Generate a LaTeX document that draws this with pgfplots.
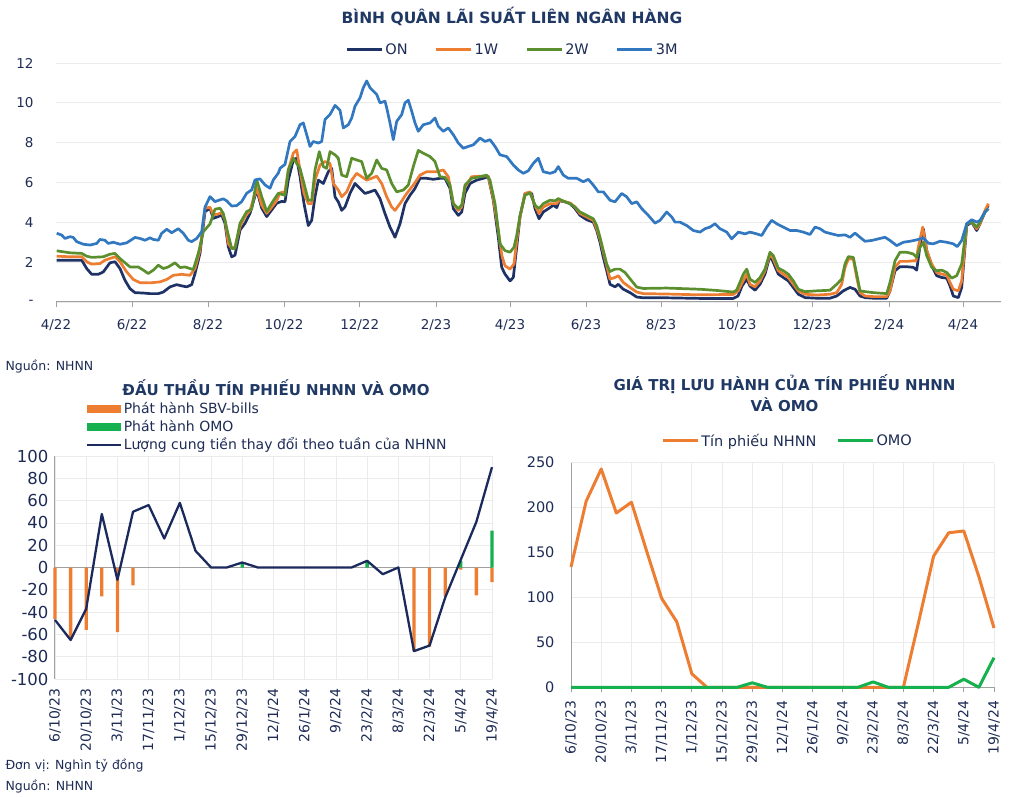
\documentclass[border=0pt]{standalone}
\usepackage{fontspec}
\setmainfont{DejaVu Sans}
\usepackage{pgfplots}
\pgfplotsset{compat=1.18}
\definecolor{ttl}{HTML}{1F3864}
\definecolor{txt}{HTML}{1E2C55}
\definecolor{cON}{HTML}{1F3266}
\definecolor{cOrange}{HTML}{ED7D31}
\definecolor{c2W}{HTML}{5B8F2E}
\definecolor{c3M}{HTML}{3178C0}
\definecolor{cGreen}{HTML}{16B04F}
\definecolor{cLine}{HTML}{1B2A5C}
\definecolor{gridc}{HTML}{EBEBEB}
\definecolor{axisc}{HTML}{A0A0A0}
\pgfplotsset{
  base/.style={
    scale only axis, anchor=south west, clip=false,
    /pgf/number format/assume math mode=true,
    grid style={gridc, line width=0.8pt},
    tick label style={text=txt},
    legend cell align=left,
  }
}
\begin{document}
\begin{tikzpicture}[x=1pt,y=1pt]
\useasboundingbox (0pt,0pt) rectangle (1024pt,796pt);
% ---------------- top chart ----------------
\node[font=\fontsize{15.5}{18}\selectfont\bfseries, text=ttl] at (512pt,780pt) {BÌNH QUÂN LÃI SUẤT LIÊN NGÂN HÀNG};
\begin{axis}[base, at={(56pt,494pt)}, width=945pt, height=239pt,
  xmin=56, xmax=1001, ymin=0, ymax=12,
  axis x line*=bottom, axis y line*=left,
  x axis line style={draw=axisc, line width=1pt, -},
  y axis line style={draw=none, -},
  xtick={56,132,208,284,359.7,436,510,586,661,737,812,889,963},
  xticklabels={4/22,6/22,8/22,10/22,12/22,2/23,4/23,6/23,8/23,10/23,12/23,2/24,4/24},
  ytick={0,2,...,12}, yticklabels={-,2,4,6,8,10,12},
  ymajorgrids,
  tick align=outside, major tick length=5pt,
  xtick style={draw=axisc, line width=1pt},
  ytick style={draw=none},
  tick label style={font=\fontsize{13.5}{16}\selectfont},
  xticklabel shift=9pt, yticklabel shift=14pt,
  legend columns=4,
  legend style={draw=none, fill=none, at={(0.5,1)}, anchor=center, xshift=-16pt, yshift=13pt,
     font=\fontsize{14.5}{17}\selectfont, text=txt,
     /tikz/every even column/.append style={column sep=25pt}},
  legend image code/.code={\draw[#1, line width=3pt] (0pt,0pt) -- (35pt,0pt);},
]
\addplot[cON, line width=2.7pt, line join=round] table[x=x,y=y] {
x y
56.7 2.10
70 2.10
81.7 2.10
86.7 1.68
91.7 1.39
98.3 1.39
103.3 1.51
110 1.97
115 2.02
120 1.68
125 1.09
130 0.67
135 0.47
143.3 0.45
150 0.42
158.3 0.42
163.3 0.50
170 0.76
176.7 0.87
181.7 0.81
186.7 0.76
191.7 0.87
195 1.43
200 2.44
205 4.54
210 4.71
213.3 4.20
218.3 4.29
221.7 4.37
225 3.95
228.3 2.77
231.7 2.27
235 2.35
240 3.61
245 3.95
250 4.45
256.7 5.63
261.7 4.71
266.7 4.29
271.7 4.62
276.7 4.96
281.7 5.05
285 5.03
288.3 6.12
293.3 7.13
296.7 7.22
300 6.29
304 4.94
308.3 3.84
311.7 4.10
315 5.28
318.3 6.12
323.3 5.95
328.3 6.54
331.7 6.71
335 5.28
338.3 5.03
341.7 4.60
345 4.77
350 5.45
355 5.95
360 5.70
365 5.45
370 5.53
375 5.62
380 5.19
385 4.44
390 3.76
395 3.25
400 3.93
405 4.94
410 5.36
415 5.70
420 6.21
426.7 6.21
433.3 6.16
440 6.21
445 6.21
450 5.70
453.3 4.69
458.3 4.35
461.7 4.52
465 5.45
470 5.95
476.7 6.12
483.3 6.21
488.3 6.29
493.3 5.11
498.3 3.25
501.7 1.74
505 1.40
510 1.06
513.3 1.23
516.7 2.75
520 4.27
525 5.45
531.7 5.45
535 4.69
539 4.18
543.3 4.52
550 4.74
553.3 4.86
556.7 4.74
559.3 5.08
565 5.03
570 4.94
575 4.69
580 4.35
586.7 4.13
593.3 4.01
596.7 3.59
600 3.00
603.3 2.24
606.7 1.57
610 0.89
615 0.76
618.3 0.89
623.3 0.64
630 0.47
636.7 0.25
643.3 0.21
666.7 0.21
700 0.18
733.3 0.18
738 0.30
742 0.80
746.7 1.15
750 0.80
755 0.59
760 0.89
765 1.40
770 2.33
773.3 1.99
778.3 1.40
783.3 1.23
788.3 1.06
793.3 0.73
798.3 0.39
805 0.22
816.7 0.19
830 0.19
836.7 0.30
843.3 0.56
850 0.73
855 0.64
860 0.30
865 0.22
873.3 0.19
886.7 0.19
890 0.56
895 1.57
900 1.77
906.7 1.77
913.3 1.74
916.7 1.60
920 2.83
923.3 3.68
926.7 2.58
931.7 1.82
936.7 1.32
941.7 1.23
946.7 1.20
950 0.81
953.3 0.30
958.3 0.22
961.7 0.73
966.7 3.84
971.7 4.01
976.7 3.59
980 3.93
985 4.52
988.3 4.86
};
\addlegendentry{ON}
\addplot[cOrange, line width=2.7pt, line join=round] table[x=x,y=y] {
x y
56.7 2.30
70 2.27
81.7 2.27
86.7 2.02
91.7 1.90
100 1.93
105 2.10
115 2.27
120 2.02
126.7 1.51
133.3 1.13
140 0.97
150 0.96
160 1.01
166.7 1.13
173.3 1.34
181.7 1.39
190 1.34
195 1.68
200 2.61
205 4.71
210 4.76
213.3 4.37
218.3 4.42
221.7 4.49
225 4.12
228.3 2.94
231.7 2.69
235 2.77
240 3.78
245 4.29
250 4.59
256.7 5.71
261.7 4.87
266.7 4.45
271.7 4.76
276.7 5.09
280 5.48
285 5.53
288.3 6.63
293.3 7.47
296.7 7.64
300 6.63
304 5.45
308.3 4.94
311.7 4.94
315 6.12
320 6.88
325 7.05
330 6.96
333.3 5.95
338.3 5.62
341.7 5.28
346.7 5.53
351.7 6.12
356.7 6.46
361.7 6.29
366.7 6.12
371.7 6.21
376.7 6.32
381.7 5.95
386.7 5.28
391.7 4.77
395 4.60
400 4.94
406.7 5.45
413.3 5.87
420 6.37
426.7 6.54
436.7 6.54
443.3 6.63
448.3 6.29
453.3 4.94
458.3 4.60
461.7 4.77
465 5.78
471.7 6.29
480 6.32
488.3 6.32
493.3 5.19
498.3 3.59
502 2.30
505 1.82
510 1.65
514 1.91
516.7 3.09
520 4.27
525 5.45
530 5.53
535 4.86
539 4.44
543.3 4.77
550 4.94
556.7 4.94
559.3 5.11
565 5.03
570 4.97
575 4.77
580 4.44
586.7 4.27
593.3 4.10
596.7 3.68
600 3.17
603.3 2.50
606.7 1.82
610 1.15
615 1.23
618.3 1.32
623.3 0.98
630 0.73
636.7 0.50
643.3 0.42
666.7 0.40
700 0.36
733.3 0.38
738 0.55
742 0.95
746.7 1.40
750 0.89
755 0.76
760 1.06
765 1.57
770 2.41
773.3 2.16
778.3 1.57
783.3 1.40
788.3 1.23
793.3 0.89
798.3 0.56
805 0.39
816.7 0.35
830 0.39
836.7 0.47
841.7 0.89
845 1.74
848.3 2.16
853.3 2.16
856.7 1.23
860 0.47
865 0.30
873.3 0.27
886.7 0.27
890 0.56
895 1.74
900 2.04
906.7 2.04
913.3 2.07
916 2.07
918.3 2.75
922.7 3.76
926.7 2.58
931.7 1.91
936.7 1.48
941.7 1.40
946.7 1.35
950 0.98
953.3 0.64
958.3 0.56
961.7 1.06
966.7 3.93
971.7 4.01
976.7 3.68
980 3.93
985 4.60
988.3 4.94
};
\addlegendentry{1W}
\addplot[c2W, line width=2.7pt, line join=round] table[x=x,y=y] {
x y
56.7 2.57
70 2.47
81.7 2.44
86.7 2.30
91.7 2.24
103.3 2.27
110 2.40
115 2.44
120 2.18
130 1.76
138.3 1.76
143.3 1.60
148.3 1.43
153.3 1.60
158.3 1.85
163.3 1.68
168.3 1.76
175 1.97
180 1.73
185 1.76
190 1.68
193.3 1.63
198.3 2.44
203.3 3.53
210 3.92
215 4.66
220 4.71
223.3 4.45
228.3 3.36
231.7 2.69
235 2.69
240 3.95
246.7 4.54
251.7 4.66
256.7 6.13
261.7 5.29
266.7 4.54
271.7 4.96
278.3 5.46
285 5.36
288.3 6.63
293.3 7.22
296.7 6.96
300 6.71
304 5.95
308.3 5.11
311.7 5.11
315 6.63
319.3 7.55
323.3 6.80
326.7 6.71
330 7.55
335 7.39
338.3 7.22
341.7 6.37
346.7 6.29
351.7 7.22
356.7 7.13
361.7 7.05
366.7 6.21
371.7 6.46
376.7 7.13
381.7 6.71
386.7 6.63
391.7 5.95
396.7 5.53
403.3 5.62
408.3 5.87
413.3 6.80
418.3 7.61
423.3 7.47
430 7.30
435 7.05
440 6.29
445 6.26
450 5.87
453.3 4.94
458.3 4.69
461.7 4.86
465 5.87
471.7 6.21
480 6.29
486.7 6.37
490 6.12
495 4.94
500 2.92
505 2.58
510 2.50
514 2.75
516.7 3.34
520 4.35
525 5.36
530 5.48
535 4.86
539 4.69
543.3 4.94
550 5.11
555 5.08
558.3 5.19
565 5.03
570 4.94
575 4.77
580 4.52
586.7 4.35
593.3 4.18
596.7 3.84
600 3.25
603.3 2.58
606.7 1.91
610 1.53
615 1.65
620 1.65
625 1.48
631.7 1.06
636.7 0.75
643.3 0.68
666.7 0.70
700 0.64
716.7 0.58
733.3 0.50
736.7 0.60
740 1.00
743.3 1.40
746.7 1.65
750 1.15
755 0.98
760 1.23
765 1.65
770 2.50
773.3 2.33
778.3 1.70
783.3 1.57
788.3 1.40
793.3 1.06
798.3 0.64
805 0.52
816.7 0.56
830 0.59
836.7 0.89
841.7 1.15
845 1.91
848.3 2.28
853.3 2.24
856.7 1.40
860 0.56
865 0.52
873.3 0.47
886.7 0.42
890 0.98
895 2.07
900 2.50
906.7 2.50
913.3 2.41
916.7 2.24
920 2.75
923.3 3.00
926.7 2.33
931.7 1.74
936.7 1.57
941.7 1.60
946.7 1.48
951.7 1.20
956.7 1.32
961.7 1.91
966.7 3.93
971.7 4.01
976.7 3.76
980 4.01
985 4.52
988.3 4.69
};
\addlegendentry{2W}
\addplot[c3M, line width=2.7pt, line join=round] table[x=x,y=y] {
x y
56.7 3.45
61.7 3.36
65 3.19
70 3.28
73.3 3.24
76.7 3.03
83.3 2.90
90 2.86
96.7 2.94
100 3.14
105 3.10
108.3 2.94
113.3 3.00
120 2.90
126.7 2.97
135 3.24
140 3.19
145 3.10
150 3.22
153.3 3.14
158.3 3.10
161.7 3.45
166.7 3.65
171.7 3.48
178.3 3.68
183.3 3.45
188.3 3.10
191.7 3.03
196.7 3.19
201.7 3.53
205 4.76
210 5.29
215 5.04
220 5.13
223.3 5.18
226.7 5.08
231.7 4.82
236.7 4.84
241.7 5.04
246.7 5.46
251.7 5.63
255 6.13
260 6.18
265 5.88
270 5.71
273.3 6.13
278.3 6.47
280 6.71
285 6.91
290 8.06
295 8.31
300 8.90
303.3 8.99
306.7 8.40
310 7.81
313.3 8.06
318.3 7.98
321.7 8.06
325 9.16
330 9.41
335 9.87
340 9.63
343.3 8.74
348.3 8.90
351.7 9.24
355 9.83
360 10.25
363.3 10.76
366.7 11.10
370 10.76
373.3 10.59
376.7 10.42
380 10.00
385 10.08
386.7 9.75
390 8.99
393.3 8.15
396.7 9.07
401.7 9.41
405 10.00
408.3 10.13
411.7 9.58
415 8.99
418.3 8.57
423.3 8.90
430 8.99
435 9.24
438.3 8.82
443.3 8.57
448.3 8.74
453.3 8.40
458.3 7.98
463.3 7.72
468.3 7.81
473.3 7.89
480 8.23
485 8.06
490 8.15
495 7.81
500 7.39
506.7 7.30
513.3 6.88
518.3 6.63
523.3 6.46
528.3 6.59
533.3 6.96
538.3 7.22
543.3 6.54
550 6.46
555 6.54
558.3 6.80
563.3 6.37
568.3 6.21
576.7 6.21
583.3 6.04
588.3 6.16
593.3 5.87
598.3 5.53
603.3 5.53
610 5.11
615 5.03
621.7 5.45
626.7 5.28
631.7 4.94
636.7 5.03
641.7 4.69
648.3 4.35
655 3.96
660 4.10
666.7 4.52
671.7 4.27
675 4.01
680 4.01
686.7 3.84
693.3 3.59
700 3.51
705 3.68
710 3.76
715 3.93
720 3.68
726.7 3.51
731.7 3.17
738.3 3.51
745 3.42
750 3.51
756.7 3.42
761.7 3.34
766.7 3.76
771.7 4.10
776.7 3.93
783.3 3.76
790 3.59
796.7 3.59
803.3 3.51
810 3.39
815 3.76
820 3.68
825 3.51
831.7 3.42
838.3 3.34
845 3.37
850 3.25
855 3.46
860 3.25
865 3.05
871.7 3.09
878.3 3.17
885 3.25
890 3.09
896.7 2.83
903.3 3.00
910 3.05
916.7 3.12
923.3 3.22
928.3 2.95
933.3 2.92
940 3.05
946.7 3.00
953.3 2.92
957.3 2.78
961.7 3.09
966.7 3.93
971.7 4.13
976.7 4.01
980 4.10
985 4.52
988.3 4.69
};
\addlegendentry{3M}
\end{axis}
\node[anchor=west, font=\fontsize{12.5}{15}\selectfont, text=txt] at (2pt,429pt) {Nguồn: NHNN};
% ---------------- bottom left ----------------
\node[font=\fontsize{15}{18}\selectfont\bfseries, text=ttl] at (276pt,408pt) {ĐẤU THẦU TÍN PHIẾU NHNN VÀ OMO};
\begin{axis}[base, at={(55pt,117pt)}, width=437pt, height=223pt,
  xmin=0, xmax=28, ymin=-100, ymax=100,
  axis x line*=bottom, axis y line*=left,
  x axis line style={draw=none, -},
  y axis line style={draw=axisc, line width=1pt, -},
  xtick={0,2,...,28},
  xticklabels={6/10/23,20/10/23,3/11/23,17/11/23,1/12/23,15/12/23,29/12/23,12/1/24,26/1/24,9/2/24,23/2/24,8/3/24,22/3/24,5/4/24,19/4/24},
  ytick={-100,-80,...,100},
  xmajorgrids, ymajorgrids,
  extra y ticks={0}, extra y tick labels={},
  extra y tick style={grid style={axisc, line width=1pt}},
  xtick style={draw=none}, ytick style={draw=none},
  xticklabel style={font=\fontsize{14}{16}\selectfont, rotate=90, anchor=east},
  yticklabel style={font=\fontsize{16.5}{19}\selectfont},
  xticklabel shift=6pt, yticklabel shift=3pt,
  legend style={draw=none, fill=none, inner sep=0pt, at={(axis description cs:0.07,1.25)}, anchor=north west,
     font=\fontsize{14}{16}\selectfont, text=txt, row sep=0pt,
     nodes={text height=11pt, text depth=3pt, inner sep=2pt}},
]
\addplot[ybar, bar width=3.3pt, bar shift=0pt, fill=cOrange, draw=none,
  legend image code/.code={\fill[cOrange] (0pt,-4pt) rectangle (34pt,4pt);}]
  coordinates {(0,-46) (1,-64) (2,-56) (3,-26) (4,-58) (5,-16) (23,-75) (24,-71) (25,-26) (26,-2) (27,-25) (28,-13)};
\addlegendentry{Phát hành SBV-bills}
\addplot[ybar, bar width=3.3pt, bar shift=0pt, fill=cGreen, draw=none,
  legend image code/.code={\fill[cGreen] (0pt,-4pt) rectangle (34pt,4pt);}]
  coordinates {(12,4) (20,5) (26,6) (28,33)};
\addlegendentry{Phát hành OMO}
\addplot[cLine, line width=2.3pt, line join=round,
  legend image code/.code={\draw[cLine, line width=2pt] (0pt,0pt) -- (34pt,0pt);}]
  coordinates {(0,-47) (1,-65) (2,-37) (3,48) (4,-11) (5,50) (6,56) (7,26) (8,58) (9,15) (10,0) (11,0) (12,4.5) (13,0) (14,0) (15,0) (16,0) (17,0) (18,0) (19,0) (20,6) (21,-6) (22,0) (23,-75) (24,-70) (25,-27) (26,7) (27,41) (28,90)};
\addlegendentry{Lượng cung tiền thay đổi theo tuần của NHNN}
\end{axis}
\node[anchor=west, font=\fontsize{12.5}{15}\selectfont, text=txt] at (2pt,30pt) {Đơn vị: Nghìn tỷ đồng};
\node[anchor=west, font=\fontsize{12.5}{15}\selectfont, text=txt] at (2pt,9pt) {Nguồn: NHNN};
% ---------------- bottom right ----------------
\node[font=\fontsize{15}{20.6}\selectfont\bfseries, text=ttl, align=center] at (784.5pt,403pt) {GIÁ TRỊ LƯU HÀNH CỦA TÍN PHIẾU NHNN\\VÀ OMO};
\begin{axis}[base, at={(571pt,108.7pt)}, width=423pt, height=224.6pt,
  xmin=0, xmax=28, ymin=0, ymax=250,
  axis x line*=bottom, axis y line*=left,
  axis line style={draw=axisc, line width=1pt, -},
  xtick={0,2,...,28},
  xticklabels={6/10/23,20/10/23,3/11/23,17/11/23,1/12/23,15/12/23,29/12/23,12/1/24,26/1/24,9/2/24,23/2/24,8/3/24,22/3/24,5/4/24,19/4/24},
  ytick={0,50,...,250},
  xmajorgrids, ymajorgrids,
  tick align=outside, major tick length=5pt,
  xtick style={draw=axisc, line width=1pt}, ytick style={draw=none},
  xticklabel style={font=\fontsize{14}{16}\selectfont, rotate=90, anchor=east},
  yticklabel style={font=\fontsize{14.5}{17}\selectfont},
  xticklabel shift=5pt, yticklabel shift=8pt,
  legend columns=2,
  legend style={draw=none, fill=none, at={(axis description cs:0.512,1.098)}, anchor=center,
     font=\fontsize{14.5}{17}\selectfont, text=txt,
     /tikz/every even column/.append style={column sep=18pt}},
  legend image code/.code={\draw[#1, line width=3pt] (0pt,0pt) -- (35pt,0pt);},
]
\addplot[cOrange, line width=3pt, line join=round]
  coordinates {(0,134) (1,207) (2,243) (3,194) (4,206) (5,152) (6,99) (7,73) (8,15) (9,0) (10,0) (11,0) (12,0) (13,0) (14,0) (15,0) (16,0) (17,0) (18,0) (19,0) (20,0) (21,0) (22,0) (23,72) (24,146) (25,172) (26,174) (27,123) (28,66)};
\addlegendentry{Tín phiếu NHNN}
\addplot[cGreen, line width=3pt, line join=round]
  coordinates {(0,0) (1,0) (2,0) (3,0) (4,0) (5,0) (6,0) (7,0) (8,0) (9,0) (10,0) (11,0) (12,5) (13,0) (14,0) (15,0) (16,0) (17,0) (18,0) (19,0) (20,6) (21,0) (22,0) (23,0) (24,0) (25,0) (26,9) (27,0) (28,33)};
\addlegendentry{OMO}
\end{axis}
\end{tikzpicture}
\end{document}
